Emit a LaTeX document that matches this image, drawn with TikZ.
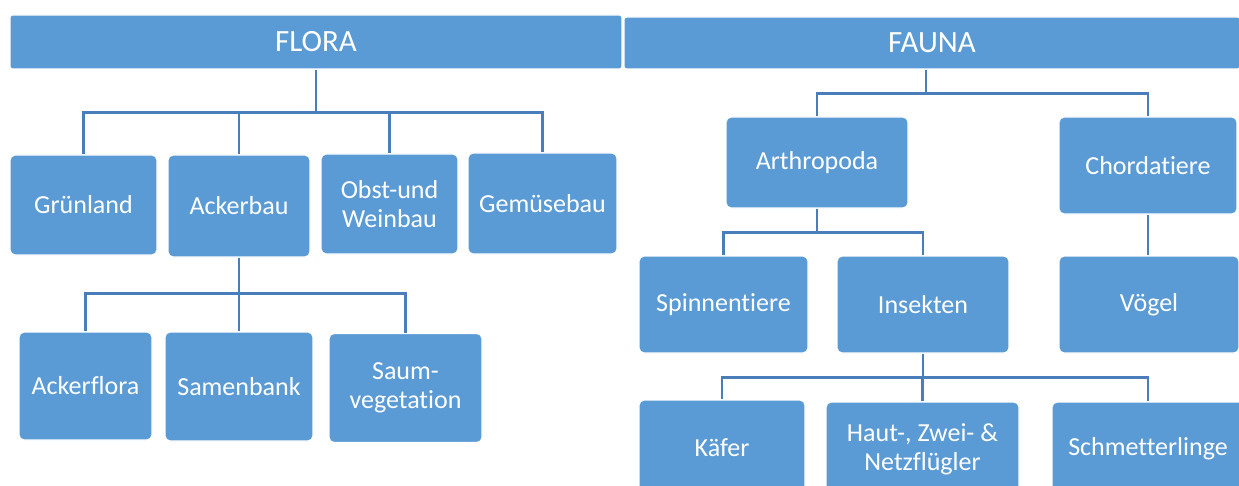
\documentclass[tikz,border=0pt]{standalone}
\usepackage{fontspec}
\setmainfont{Carlito}[Ligatures=NoCommon]

\definecolor{boxblue}{HTML}{5B9BD5}
\definecolor{linkblue}{HTML}{4A7EBB}

\tikzset{
  box/.style={rectangle, rounded corners=3pt, fill=boxblue, draw=white,
    line width=0.6pt, text=white, align=center, inner sep=0pt,
    font=\fontsize{14.8}{16.6}\selectfont},
  head/.style={box, rounded corners=1.5pt, font=\fontsize{17.6}{20}\selectfont},
  boxsize/.style 2 args={minimum width=#1*0.02cm, minimum height=#2*0.02cm},
  link/.style={draw=linkblue, line width=1.6pt},
}

\begin{document}
\begin{tikzpicture}[x=0.02cm, y=-0.02cm]

    \clip (0,0) rectangle (1239,486);

    % Define nodes
    \node[head, boxsize={612}{54}]  (flora)   at (316,42)    {FLORA};
    \node[head, boxsize={616}{52}]  (fauna)   at (932,43)    {FAUNA};

    \node[box, boxsize={147}{100}]  (gruen)   at (83.5,205)  {Grünland};
    \node[box, boxsize={142}{102}]  (acker)   at (239,206)   {Ackerbau};
    \node[box, boxsize={137}{100}]  (obst)    at (389.5,204) {Obst-und\\Weinbau};
    \node[box, boxsize={149}{101}]  (gemuese) at (542.5,203.5) {Gemüsebau};

    \node[box, boxsize={133}{108}]  (ackerflora) at (85.5,386) {Ackerflora};
    \node[box, boxsize={148}{109}]  (samen)   at (239,386.5) {Samenbank};
    \node[box, boxsize={153}{109}]  (saum)    at (405.5,388) {Saum-\\vegetation};

    \node[box, boxsize={182}{91}]   (arthro)  at (817,162.5) {Arthropoda};
    \node[box, boxsize={178}{97}]   (chorda)  at (1148,165.5) {Chordatiere};

    \node[box, boxsize={169}{97}]   (spinnen) at (723.5,304.5) {Spinnentiere};
    \node[box, boxsize={172}{97}]   (insekten) at (923,304.5) {Insekten};
    \node[box, boxsize={180}{97}]   (voegel)  at (1149,304.5) {Vögel};

    \node[box, boxsize={166}{96}]   (kaefer)  at (722,448)   {Käfer};
    \node[box, boxsize={193}{94}]   (haut)    at (922.5,449) {Haut-, Zwei- \&\\Netzflügler};
    \node[box, boxsize={192}{94}]   (schmetter) at (1148,449) {Schmetterlinge};

    % Connect the nodes
    \foreach \child in {gruen, acker, obst, gemuese}
      \draw[link] (flora.south) -- +(0,43) -| (\child.north);
    \foreach \child in {ackerflora, samen, saum}
      \draw[link] (acker.south) -- +(0,36) -| (\child.north);
    \foreach \child in {arthro, chorda}
      \draw[link] ([xshift=-1.2mm]fauna.south) -- +(0,24) -| (\child.north);
    \foreach \child in {spinnen, insekten}
      \draw[link] (arthro.south) -- +(0,24) -| (\child.north);
    \draw[link] (chorda.south) -- (chorda.south |- voegel.north);
    \foreach \child in {kaefer, haut, schmetter}
      \draw[link] (insekten.south) -- +(0,24) -| (\child.north);

\end{tikzpicture}
\end{document}
